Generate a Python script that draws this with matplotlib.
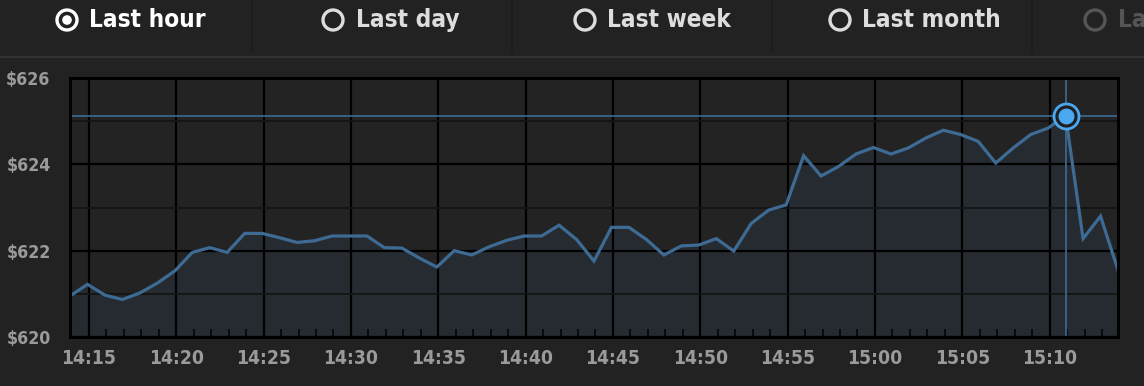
import matplotlib
matplotlib.use("Agg")
import matplotlib.pyplot as plt
import matplotlib.dates as mdates
from matplotlib.patches import Circle
from matplotlib.ticker import FixedLocator
from matplotlib.font_manager import FontProperties
from matplotlib.textpath import TextPath
import pandas as pd

# ---------------- data ----------------
start_time = "2024-01-01 14:13:55"
prices = [620.95, 621.22, 620.97, 620.87, 621.02, 621.25, 621.53, 621.96, 622.07, 621.96,
          622.40, 622.40, 622.30, 622.19, 622.23, 622.34, 622.34, 622.34, 622.07, 622.06,
          621.83, 621.62, 622.00, 621.90, 622.09, 622.24, 622.34, 622.34, 622.59, 622.26,
          621.76, 622.54, 622.54, 622.26, 621.90, 622.11, 622.13, 622.28, 621.99, 622.63,
          622.94, 623.06, 624.20, 623.73, 623.95, 624.24, 624.39, 624.24, 624.38, 624.61,
          624.79, 624.69, 624.53, 624.03, 624.38, 624.69, 624.84, 625.13, 622.28, 622.80,
          621.55]
y_ticks = [620, 622, 624, 626]
y_minor = [621, 623, 625]
y_tick_labels = ["$620", "$622", "$624", "$626"]
tabs = ["Last hour", "Last day", "Last week", "Last month", "Last year"]
selected_tab = 0
highlight_index = 57

times = pd.date_range(start_time, periods=len(prices), freq="min").to_pydatetime()

# ---------------- style ----------------
BG = "#222222"
LINE = "#3d6b94"
FILL = "#262b31"
DOT = "#4aa8f0"
TICK_TXT = "#9a9a9a"
FAMILY = ["DejaVu Sans"]
STRETCH = "condensed"


def fit_size(text, target_px, max_pt):
    prop = FontProperties(family=FAMILY, weight="bold", stretch=STRETCH)
    w = TextPath((0, 0), text, size=1, prop=prop).get_extents().width
    s = target_px * 72 / 100 / w
    return min(s, max_pt)


W, H = 1144, 386
fig = plt.figure(figsize=(W / 100, H / 100), dpi=100, facecolor=BG)

ov = fig.add_axes([0, 0, 1, 1], zorder=0)
ov.set_xlim(0, W)
ov.set_ylim(H, 0)
ov.axis("off")
ov.patch.set_alpha(0)

ov.plot([0, W], [57, 57], color="#333333", lw=1.5)
for sx in [252, 512, 772, 1032]:
    ov.plot([sx, sx], [0, 52], color="#1b1b1b", lw=1.2)

radio_x = [67, 333, 585, 840, 1095]
text_x = [89, 356, 607, 862, 1118]
tab_size = 17.5
for i, label in enumerate(tabs):
    if i == selected_tab:
        col = "#ffffff"
    elif i == len(tabs) - 1:
        col = "#555555"
    else:
        col = "#dddddd"
    ov.add_patch(Circle((radio_x[i], 20), 10, facecolor="none", edgecolor=col, lw=2.4))
    if i == selected_tab:
        ov.add_patch(Circle((radio_x[i], 20), 4.8, facecolor=col, edgecolor="none"))
    ov.text(text_x[i], 20, label, color=col, fontsize=tab_size, fontweight="bold",
            family=FAMILY, fontstretch=STRETCH, va="center", ha="left")

# ---------------- main chart ----------------
L, R, T, B = 70, 1118, 78, 337
ax = fig.add_axes([L / W, 1 - B / H, (R - L) / W, (B - T) / H], zorder=1)
ax.set_facecolor("#232323")

ax.fill_between(times, prices, y_ticks[0], color=FILL, lw=0, zorder=1)
ax.plot(times, prices, color=LINE, lw=2.3, solid_joinstyle="miter", zorder=3)

hx, hy = times[highlight_index], prices[highlight_index]
ax.axhline(hy, color=LINE, lw=1.2, zorder=2.5)
ax.axvline(hx, color=LINE, lw=1.2, zorder=2.5)
ax.plot([hx], [hy], marker="o", markersize=18, markerfacecolor="#1f1f1f",
        markeredgecolor=DOT, markeredgewidth=2.0, zorder=4)
ax.plot([hx], [hy], marker="o", markersize=11.5, markerfacecolor=DOT,
        markeredgecolor="none", zorder=5)

ax.set_xlim(times[0], times[-1])
ax.set_ylim(y_ticks[0], y_ticks[-1])

ax.xaxis.set_major_locator(mdates.MinuteLocator(byminute=range(0, 60, 5)))
ax.xaxis.set_minor_locator(mdates.MinuteLocator())
ax.xaxis.set_major_formatter(mdates.DateFormatter("%H:%M"))
ax.yaxis.set_major_locator(FixedLocator(y_ticks))
ax.yaxis.set_minor_locator(FixedLocator(y_minor))
ax.set_yticklabels(y_tick_labels)

ax.grid(which="major", axis="x", color="black", lw=1.6)
ax.grid(which="major", axis="y", color="black", lw=1.6)
ax.grid(which="minor", axis="y", color="#141414", lw=1.3)

xs = fit_size("14:15", 52, 14)
ys = fit_size("$626", 42, 14.5)
ax.tick_params(axis="x", which="major", length=0, pad=9, labelcolor=TICK_TXT, labelsize=xs)
ax.tick_params(axis="x", which="minor", direction="in", length=6, width=1.1, color="black")
ax.tick_params(axis="y", which="both", length=0)
ax.tick_params(axis="y", which="major", pad=14, labelcolor=TICK_TXT, labelsize=ys)
for lbl in ax.get_xticklabels() + ax.get_yticklabels():
    lbl.set_family(FAMILY)
    lbl.set_fontstretch(STRETCH)
    lbl.set_fontweight("bold")

for s in ax.spines.values():
    s.set_color("black")
    s.set_linewidth(2.2)
    s.set_zorder(6)

fig.savefig("out.png", dpi=100, facecolor=BG)
